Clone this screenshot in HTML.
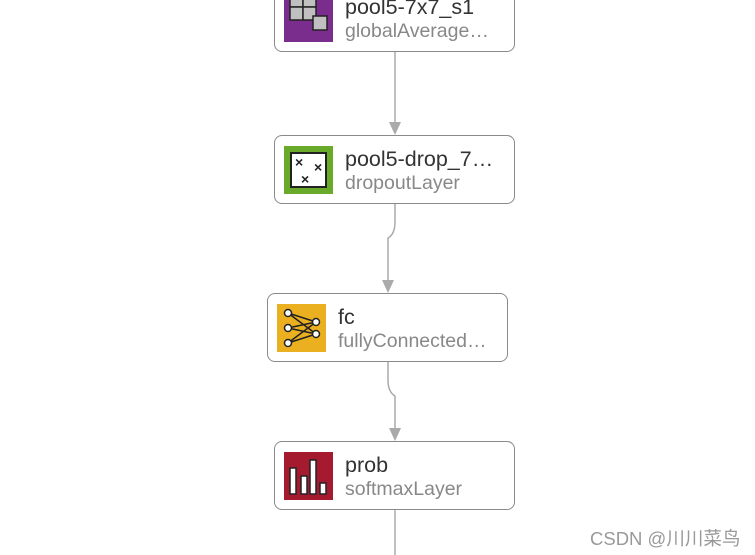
<!DOCTYPE html>
<html><head><meta charset="utf-8"><style>
body{margin:0;width:755px;height:555px;background:#fff;position:relative;overflow:hidden;font-family:"Liberation Sans",sans-serif}
.b{position:absolute;width:239px;height:67px;border:1px solid #8a8a8a;border-radius:8px;background:#fff}
.ic{position:absolute;left:9px;top:10px;width:49px;height:48px}
.t{position:absolute;left:70px;top:11px;font-size:21.5px;color:#333;white-space:nowrap}
.s{position:absolute;left:70px;top:36px;font-size:19.5px;color:#888;white-space:nowrap}
.wm{position:absolute;left:590px;top:525px;font-size:18.5px;color:#999;font-family:"Liberation Sans","Noto Sans CJK SC",sans-serif}
</style></head><body>
<svg width="755" height="555" style="position:absolute;left:0;top:0">
<g stroke="#aaa" stroke-width="1.5" fill="none">
<path d="M395 51 V124"/>
<path d="M395 204 V222 Q395 234 388 238 V282"/>
<path d="M388 362 V380 Q388 392 395 396 V430"/>
<path d="M395 510 V555"/>
</g>
<g fill="#aaa">
<path d="M389 122 L401 122 L395 135Z"/>
<path d="M382 280 L394 280 L388 293Z"/>
<path d="M389 428 L401 428 L395 441Z"/>
</g>
</svg>
<div class="b" style="left:274px;top:-17px">
<svg class="ic" viewBox="0 0 49 48"><rect width="49" height="48" fill="#7b2d8e"/><g fill="#c0c0c0" stroke="#222" stroke-width="1.5"><rect x="6" y="0" width="13" height="13"/><rect x="19" y="0" width="13" height="13"/><rect x="6" y="13" width="13" height="13"/><rect x="19" y="13" width="13" height="13"/><rect x="29" y="22" width="14" height="14"/></g></svg>
<div class="t">pool5-7x7_s1</div><div class="s">globalAverage…</div></div>
<div class="b" style="left:274px;top:135px">
<svg class="ic" viewBox="0 0 49 48"><rect width="49" height="48" fill="#6aaa2a"/><rect x="7" y="7" width="35" height="34" fill="#fff" stroke="#222" stroke-width="2"/><g fill="#222" font-size="14" font-weight="bold" font-family="Liberation Sans"><text x="11" y="21">×</text><text x="30" y="26">×</text><text x="17" y="38">×</text></g></svg>
<div class="t">pool5-drop_7…</div><div class="s">dropoutLayer</div></div>
<div class="b" style="left:267px;top:293px">
<svg class="ic" viewBox="0 0 49 48"><rect width="49" height="48" fill="#eab020"/><g stroke="#222" stroke-width="1.5"><path d="M11 9 L39 18 M11 9 L39 30 M11 24 L39 18 M11 24 L39 30 M11 39 L39 18 M11 39 L39 30"/></g><g fill="#fff" stroke="#222" stroke-width="1.5"><circle cx="11" cy="9" r="3.5"/><circle cx="11" cy="24" r="3.5"/><circle cx="11" cy="39" r="3.5"/><circle cx="39" cy="18" r="3.5"/><circle cx="39" cy="30" r="3.5"/></g></svg>
<div class="t">fc</div><div class="s">fullyConnected…</div></div>
<div class="b" style="left:274px;top:441px">
<svg class="ic" viewBox="0 0 49 48"><rect width="49" height="48" fill="#a51a2e"/><g fill="#fff" stroke="#222" stroke-width="1.5"><rect x="6" y="16" width="6" height="26"/><rect x="17" y="24" width="6" height="18"/><rect x="26" y="8" width="6" height="34"/><rect x="36" y="31" width="6" height="11"/></g></svg>
<div class="t">prob</div><div class="s">softmaxLayer</div></div>
<div class="wm">CSDN @川川菜鸟</div>
</body></html>
